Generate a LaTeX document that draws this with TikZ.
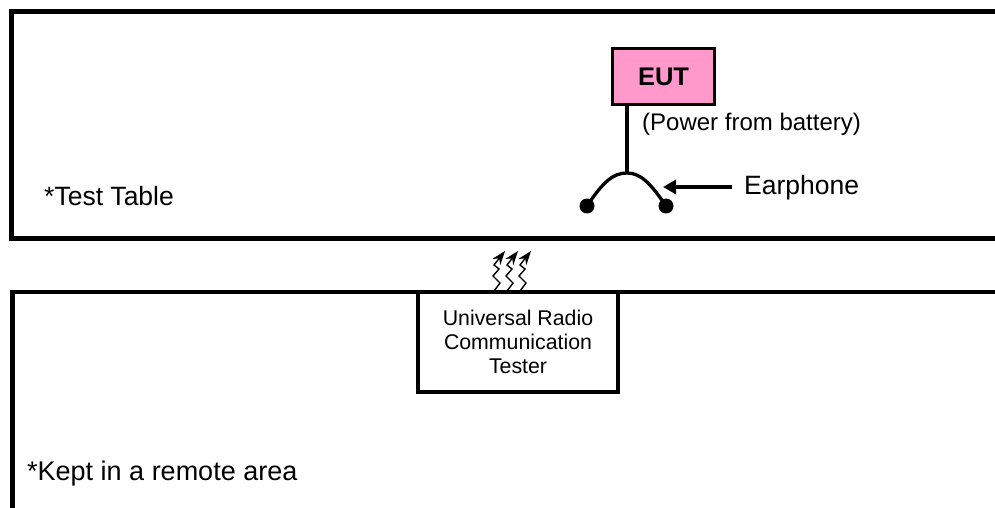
\documentclass[tikz,border=0pt]{standalone}
\usepackage{fontspec}
\setmainfont{Liberation Sans}
\usetikzlibrary{arrows.meta}
\definecolor{eutpink}{HTML}{FF99CC}
\begin{document}
\begin{tikzpicture}[x=1pt,y=-1pt,
  frame/.style={line width=4.5pt},
  boxed/.style={draw,line width=3.3pt,inner sep=0pt},
  lbl/.style={inner sep=0pt,anchor=west},
  wave/.style={line width=1.4pt,-{Stealth[length=14pt,width=10pt]}}]
\useasboundingbox (0,0) rectangle (995,508);
\fill[white] (0,0) rectangle (995,508);
% test table
\draw[frame] (1010,11.5) -- (11.5,11.5) -- (11.5,238.5) -- (1010,238.5);
% remote area
\draw[frame] (1010,292) -- (12.5,292) -- (12.5,520);
% EUT
\node[boxed,fill=eutpink,minimum width=102pt,minimum height=56pt,font=\fontsize{25.5}{28}\selectfont\bfseries] (eut) at (663.5,76.5) {EUT};
\node[lbl,font=\fontsize{24}{27}\selectfont] (pw) at (642,124) {(Power from battery)};
\coordinate (top) at (627,106);
\coordinate (peak) at (627,173);
\node[circle,fill=black,minimum size=15pt,inner sep=0pt] (dl) at (587,206) {};
\node[circle,fill=black,minimum size=15pt,inner sep=0pt] (dr) at (666,206) {};
\draw[line width=3.3pt] (top) -- (peak);
\draw[line width=3.3pt] (dl.center) .. controls (603,182) and (613,173) .. (peak) .. controls (641,173) and (651,184) .. (dr.center);
\node[lbl,font=\fontsize{26.5}{30}\selectfont] (ear) at (744,188) {Earphone};
\coordinate (ea) at (732,187);
\draw[line width=3.3pt,-{Triangle[length=13pt,width=14pt]}] (ea) -- (663,187);
\node[lbl,font=\fontsize{26.5}{30}\selectfont] (tt) at (44,196) {*Test Table};
% tester
\node[boxed,minimum width=200pt,minimum height=100pt,align=center,font=\fontsize{21.3}{24}\selectfont] (urct) at (518,342) {Universal Radio\\ Communication\\ Tester};
\node[lbl,font=\fontsize{27}{30}\selectfont] (kr) at (27,474) {*Kept in a remote area};
% radio waves
\foreach \d in {0,13,26}{
  \draw[wave] (494+\d,291) -- (500+\d,283) -- (493+\d,276) -- (499+\d,269) -- (494+\d,265) -- (505+\d,251);
}
\end{tikzpicture}
\end{document}
